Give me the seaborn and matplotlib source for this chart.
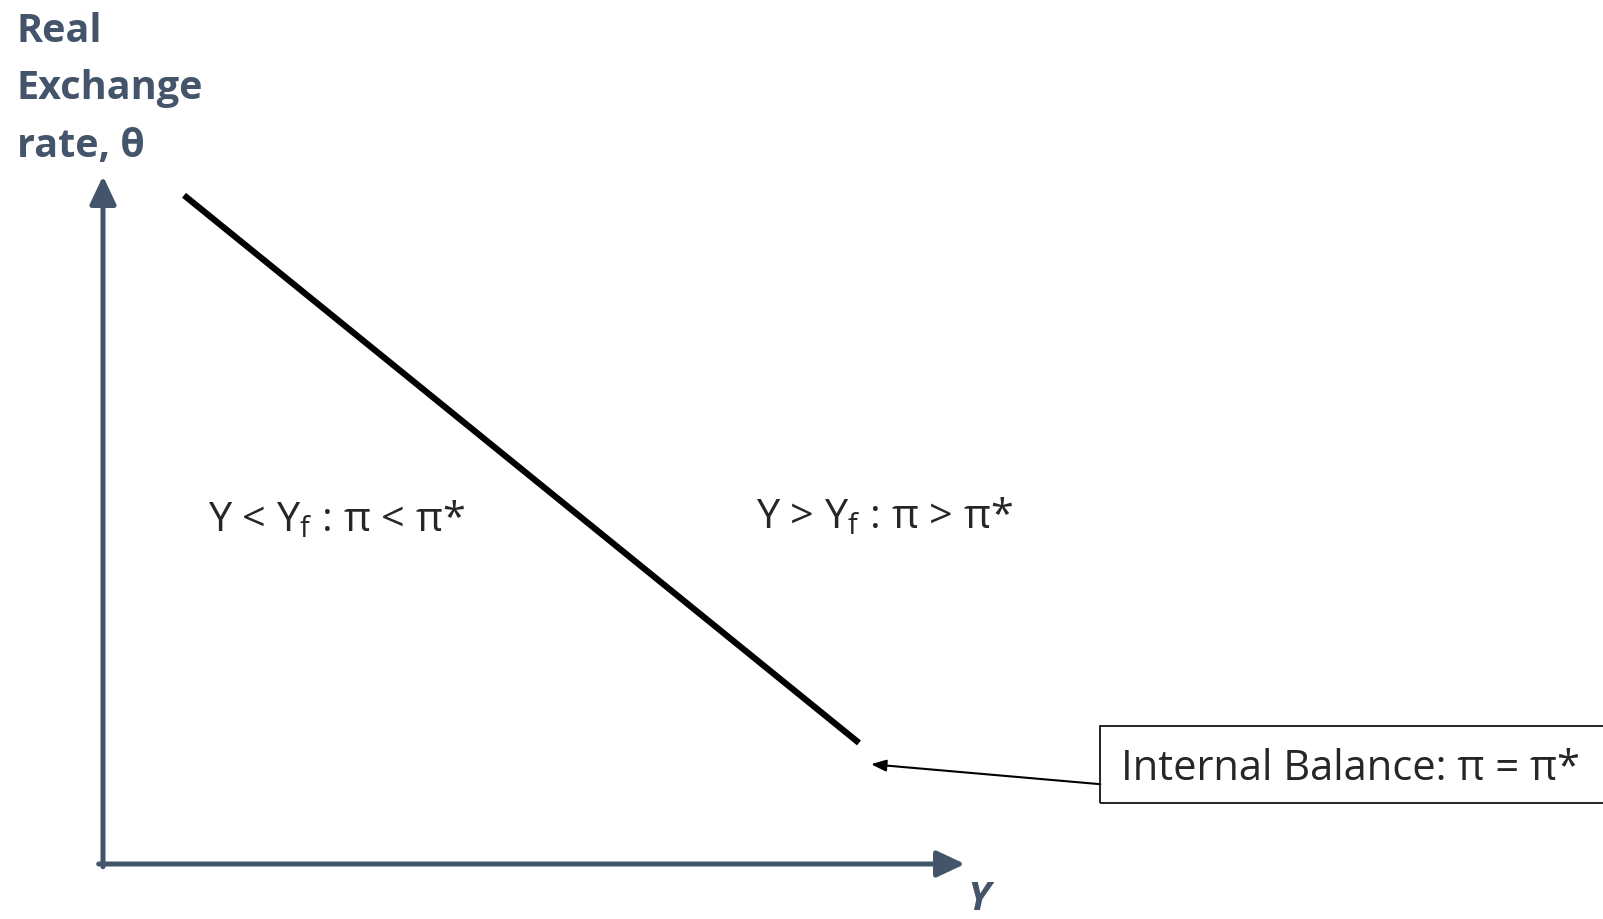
import numpy as np
import pandas as pd
import matplotlib
matplotlib.use("Agg")
import matplotlib.pyplot as plt
from matplotlib.patches import FancyArrowPatch, Rectangle
import seaborn as sns

sns.set_style("white")
plt.rcParams['font.family'] = ['Open Sans', 'DejaVu Sans']
plt.rcParams['mathtext.fontset'] = 'custom'
plt.rcParams['mathtext.rm'] = 'Open Sans'

# Data (diagram units, axes run 0..10)
ib_y = [0.94, 8.77]          # output Y
ib_theta = [9.72, 1.76]      # real exchange rate
axis_len = 10
left_label = "Y < Y$_\\mathrm{f}$ : π < π*"
right_label = "Y > Y$_\\mathrm{f}$ : π > π*"
box_label = "Internal Balance: π = π*"
ylabel_lines = ["Real", "Exchange", "rate, θ"]

axis_col = "#44546A"

fig = plt.figure(figsize=(16.03, 9.19), dpi=100)
ax = fig.add_axes([103/1603, 55/919, 862/1603, 688/919])
ax.set_xlim(0, axis_len)
ax.set_ylim(0, axis_len)
ax.axis("off")

df = pd.DataFrame({"Y": ib_y, "theta": ib_theta})
sns.lineplot(data=df, x="Y", y="theta", color="black", linewidth=4.5, ax=ax,
             solid_capstyle="butt")

# axes arrows
for start, end in [((0, -0.04), (0, axis_len)), ((-0.05, 0), (axis_len, 0))]:
    arr = FancyArrowPatch(start, end, arrowstyle="-|>,head_length=17,head_width=8",
                          mutation_scale=1, lw=3.6, color=axis_col,
                          shrinkA=0, shrinkB=0, clip_on=False,
                          transform=ax.transData)
    ax.add_patch(arr)

ax.text(2.71, 4.99, left_label, fontsize=29.8, ha="center", va="center")
ax.text(9.07, 5.03, right_label, fontsize=29.8, ha="center", va="center")

# internal balance box + pointer
ax.add_patch(Rectangle((11.57, 0.88), 7, 1.12, fill=False, lw=1.2,
                       edgecolor="black", clip_on=False))
ax.text(11.81, 1.38, box_label, fontsize=30, ha="left", va="center")
ax.annotate("", xy=(8.91, 1.45), xytext=(11.57, 1.16),
            arrowprops=dict(arrowstyle="-|>,head_length=0.9,head_width=0.35",
                            color="black", lw=1.5, shrinkA=0, shrinkB=0),
            annotation_clip=False)

# axis titles
for i, line in enumerate(ylabel_lines):
    fig.text(17/1603, 1 - (32 + 57*i)/919, line, fontsize=28.5, fontweight="bold",
             color=axis_col, ha="left", va="center")
fig.text(979/1603, 1 - 900/919, "Y", fontsize=29, fontweight="bold",
         fontstyle="italic", color=axis_col, ha="center", va="center")

fig.savefig("out.png", dpi=100)
